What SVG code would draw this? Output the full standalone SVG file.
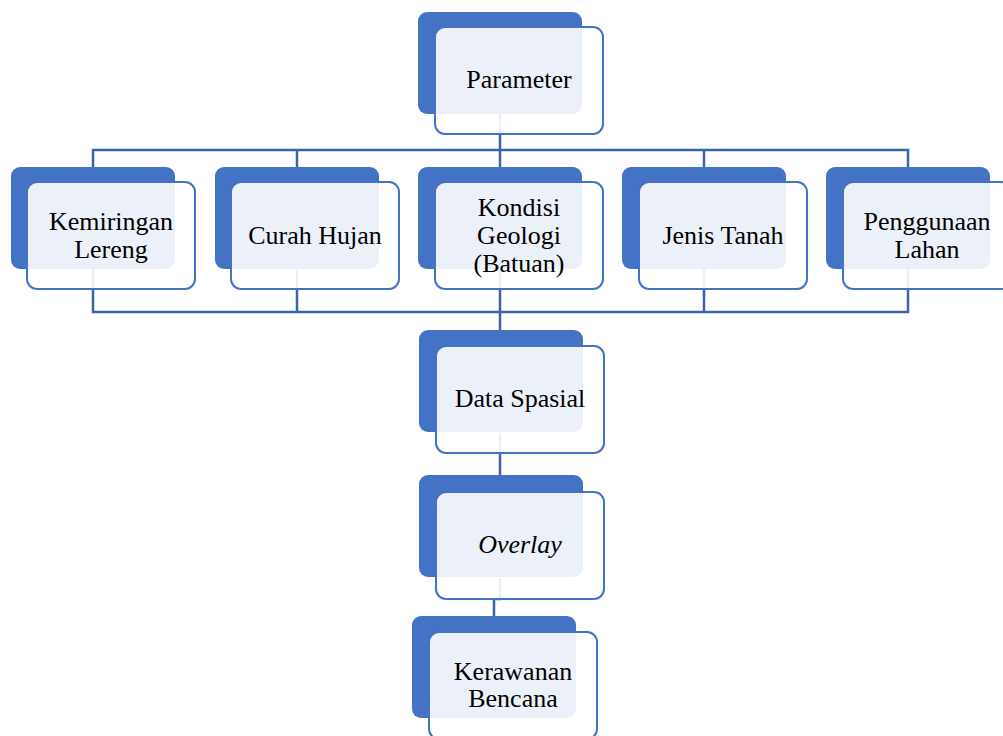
<svg xmlns="http://www.w3.org/2000/svg" width="1003" height="736" viewBox="0 0 1003 736">
<style>
.back{fill:#4472C4;}
.front{fill:#FFFFFF;fill-opacity:0.9;stroke:#4472C4;stroke-width:2;}
.lbl{font-family:"Liberation Serif","Times New Roman",serif;font-size:26px;fill:#000;text-anchor:middle;}
.conn{fill:none;stroke:#3B64AD;stroke-width:2.5;}
</style>
<rect width="1003" height="736" fill="#FFFFFF"/>
<g id="connectors" class="conn">
<path d="M500,114 V150"/>
<path d="M93,167 V150 H908 V167"/>
<path d="M297,150 V167 M500,150 V167 M704,150 V167"/>
<path d="M93,269 V312 H908 V269"/>
<path d="M297,269 V312 M500,269 V312 M704,269 V312"/>
<path d="M500,312 V330"/>
<path d="M500,433 V475"/>
<path d="M500,578 V599 H494 V616"/>
</g>
<g id="parameter">
<rect class="back" x="418" y="12" width="164" height="102" rx="9"/>
<rect class="front" x="435" y="27" width="168" height="107" rx="10"/>
<text class="lbl" x="519" y="88">Parameter</text>
</g>
<g id="kemiringan">
<rect class="back" x="11" y="167" width="164" height="102" rx="9"/>
<rect class="front" x="27" y="182" width="168" height="107" rx="10"/>
<text class="lbl" x="111" y="230">Kemiringan</text>
<text class="lbl" x="111" y="258">Lereng</text>
</g>
<g id="curah">
<rect class="back" x="215" y="167" width="164" height="102" rx="9"/>
<rect class="front" x="231" y="182" width="168" height="107" rx="10"/>
<text class="lbl" x="315" y="244">Curah Hujan</text>
</g>
<g id="kondisi">
<rect class="back" x="418" y="167" width="164" height="102" rx="9"/>
<rect class="front" x="435" y="182" width="168" height="107" rx="10"/>
<text class="lbl" x="519" y="216">Kondisi</text>
<text class="lbl" x="519" y="244">Geologi</text>
<text class="lbl" x="519" y="272">(Batuan)</text>
</g>
<g id="jenis">
<rect class="back" x="622" y="167" width="164" height="102" rx="9"/>
<rect class="front" x="639" y="182" width="168" height="107" rx="10"/>
<text class="lbl" x="723" y="244">Jenis Tanah</text>
</g>
<g id="penggunaan">
<rect class="back" x="826" y="167" width="164" height="102" rx="9"/>
<rect class="front" x="843" y="182" width="168" height="107" rx="10"/>
<text class="lbl" x="927" y="230">Penggunaan</text>
<text class="lbl" x="927" y="258">Lahan</text>
</g>
<g id="data-spasial">
<rect class="back" x="419" y="330" width="164" height="102" rx="9"/>
<rect class="front" x="436" y="346" width="168" height="107" rx="10"/>
<text class="lbl" x="520" y="407">Data Spasial</text>
</g>
<g id="overlay">
<rect class="back" x="419" y="475" width="164" height="102" rx="9"/>
<rect class="front" x="436" y="492" width="168" height="107" rx="10"/>
<text class="lbl" x="520" y="553" font-style="italic">Overlay</text>
</g>
<g id="kerawanan">
<rect class="back" x="412" y="616" width="164" height="102" rx="9"/>
<rect class="front" x="429" y="632" width="168" height="107" rx="10"/>
<text class="lbl" x="513" y="680">Kerawanan</text>
<text class="lbl" x="513" y="707">Bencana</text>
</g>
</svg>
